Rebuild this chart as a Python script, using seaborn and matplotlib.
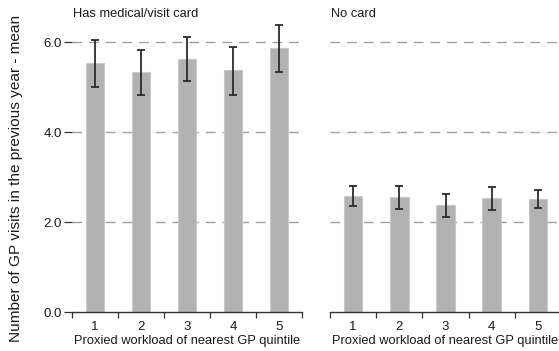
import matplotlib
matplotlib.use("Agg")
import matplotlib.pyplot as plt
import seaborn as sns
import pandas as pd
import numpy as np

# Mean GP visits by proxied workload quintile, split by card status
quintiles = ["1", "2", "3", "4", "5"]
panels = ["Has medical/visit card", "No card"]
card_mean = [5.55, 5.35, 5.64, 5.38, 5.88]
card_lo = [5.00, 4.84, 5.13, 4.84, 5.35]
card_hi = [6.05, 5.83, 6.11, 5.90, 6.39]
nocard_mean = [2.59, 2.57, 2.39, 2.54, 2.52]
nocard_lo = [2.36, 2.30, 2.12, 2.27, 2.32]
nocard_hi = [2.81, 2.81, 2.63, 2.79, 2.72]
yticks = [0.0, 2.0, 4.0, 6.0]

sns.set_theme(style="white")
plt.rcParams["font.family"] = ["Liberation Sans", "DejaVu Sans"]

W, H = 559, 351
fig = plt.figure(figsize=(W / 100, H / 100), dpi=100)

y0 = 312.3
ymax = 6.6
ppu = 45.0
bottom = (H - y0) / H
height = ymax * ppu / H
ax1 = fig.add_axes([72 / W, bottom, 230 / W, height])
ax2 = fig.add_axes([330 / W, bottom, 231 / W, height])

series = [
    (ax1, card_mean, card_lo, card_hi),
    (ax2, nocard_mean, nocard_lo, nocard_hi),
]

TXT = "#1a1a1a"
for i, (ax, mean, lo, hi) in enumerate(series):
    df = pd.DataFrame({"quintile": quintiles, "mean": mean})
    for yv in yticks[1:]:
        ax.axhline(yv, color="#a0a0a0", lw=1.0, ls=(0, (7, 5)), zorder=0)
    sns.barplot(data=df, x="quintile", y="mean", ax=ax, color="#b2b2b2",
                saturation=1, width=0.4, edgecolor="#c9c9c9", linewidth=0.8,
                errorbar=None, zorder=2)
    m = np.array(mean)
    yerr = np.vstack([m - np.array(lo), np.array(hi) - m])
    ax.errorbar(np.arange(len(quintiles)), m, yerr=yerr, fmt="none",
                ecolor="#2b2b2b", elinewidth=1.3, capsize=3.2, capthick=1.3,
                zorder=3)
    ax.set_xlim(-0.5, len(quintiles) - 0.5)
    ax.set_ylim(0, ymax)
    ax.set_xlabel("Proxied workload of nearest GP quintile", fontsize=9.3,
                  color=TXT, labelpad=1.5)
    ax.set_ylabel("")
    for s in ["top", "right", "left"]:
        ax.spines[s].set_visible(False)
    ax.spines["bottom"].set_color("#333333")
    ax.spines["bottom"].set_linewidth(1.0)
    ax.set_xticks(np.arange(len(quintiles)))
    ax.set_xticklabels(quintiles)
    ax.set_xticks(np.arange(len(quintiles) + 1) - 0.5, minor=True)
    ax.tick_params(axis="x", which="major", length=0, labelsize=9.5,
                   labelcolor=TXT, pad=6)
    ax.tick_params(axis="x", which="minor", length=4, width=0.9,
                   color="#333333", bottom=True)
    ax.set_yticks(yticks)
    if i == 0:
        ax.set_yticklabels([f"{v:.1f}" for v in yticks])
        ax.tick_params(axis="y", length=6, width=0.9, color="#333333",
                       labelsize=9.5, labelcolor=TXT, left=True, pad=1.5)
    else:
        ax.tick_params(axis="y", length=0, labelleft=False)
    ax.grid(False)

fig.text(72 / W + 0.002, 1 - 14 / H, panels[0], fontsize=9.3, color=TXT,
         ha="left", va="center")
fig.text(330 / W + 0.002, 1 - 14 / H, panels[1], fontsize=9.3, color=TXT,
         ha="left", va="center")
fig.text(16 / W, 1 - 178 / H, "Number of GP visits in the previous year - mean",
         rotation=90, fontsize=11.1, color=TXT, ha="center", va="center")

fig.savefig("out.png", dpi=100)
